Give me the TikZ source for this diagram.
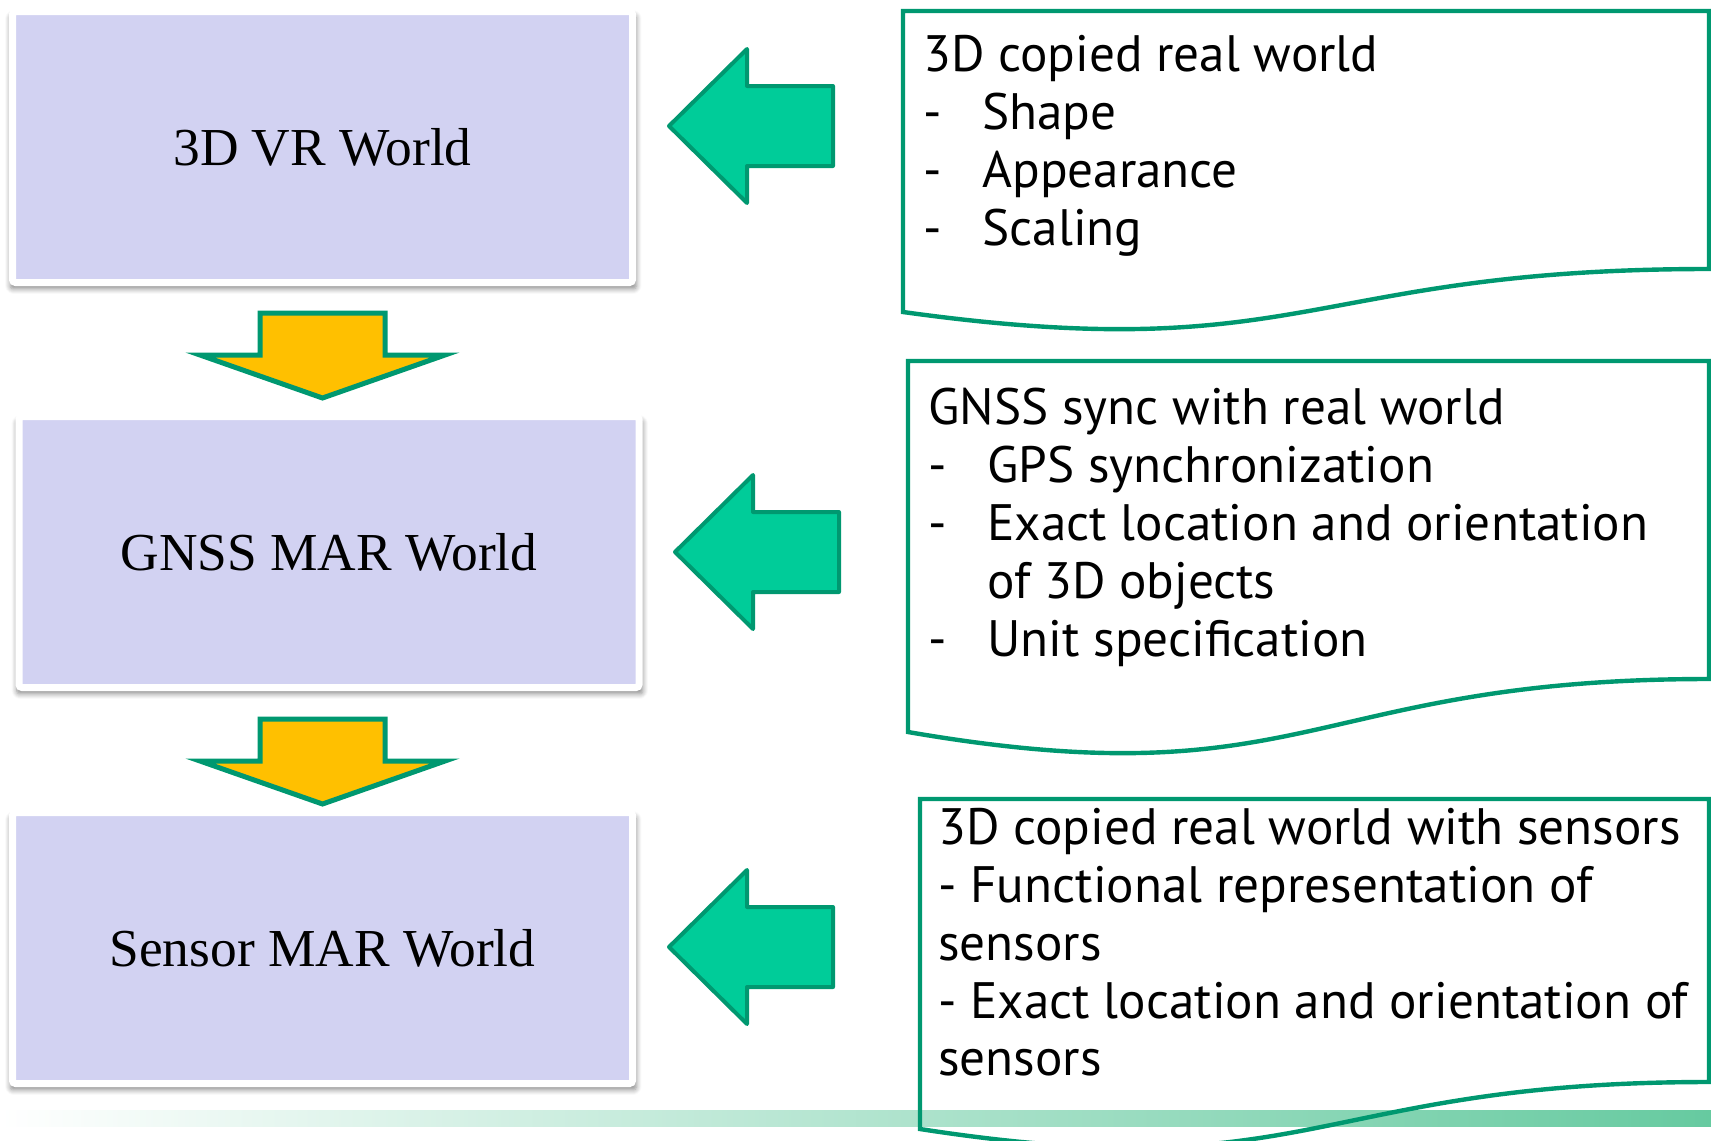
\documentclass[tikz,border=0pt]{standalone}
\usepackage{fontspec}
\setmainfont{Liberation Serif}
\newfontfamily\docfont{PT Sans}
\usetikzlibrary{shadows.blur}
\definecolor{worldfill}{RGB}{210,210,242}
\definecolor{arrowgreen}{RGB}{0,204,153}
\definecolor{edgegreen}{RGB}{0,152,112}
\definecolor{arrowyellow}{RGB}{255,192,0}
\definecolor{barend}{RGB}{102,202,160}
\newcommand{\dashitem}{\makebox[29.5pt][l]{-}}
\tikzset{
  worldbox/.style={fill=worldfill, draw=white, line width=3.5pt, rounded corners=1.5pt,
    minimum width=310pt, minimum height=135.5pt, inner sep=0pt,
    blur shadow={shadow xshift=0.4pt, shadow yshift=-2.5pt, shadow blur radius=2.5pt,
      shadow blur steps=6, shadow opacity=45, shadow scale=1.01},
    font=\fontsize{26.7}{30}\selectfont},
  leftarrow/.style={fill=arrowgreen, draw=edgegreen, line width=2pt, line join=round},
  downarrow/.style={fill=arrowyellow, draw=edgegreen, line width=2.5pt, line join=miter},
  docframe/.style={draw=edgegreen, line width=2.2pt},
  doctext/.style={anchor=north west, align=left, inner sep=0pt,
    font=\docfont\fontsize{25.6}{28.9}\selectfont}
}
\begin{document}
\begin{tikzpicture}[x=0.5pt,y=-0.5pt]
\useasboundingbox (0,0) rectangle (1711,1140);
% bottom band
\fill[left color=white, right color=barend] (0,1110) rectangle (1711,1126);
% worlds
\node[worldbox] (vrworld) at (322.5,147) {3D VR World};
\node[worldbox] (gnssworld) at (329,552) {GNSS MAR World};
\node[worldbox] (sensorworld) at (322.5,948) {Sensor MAR World};
% down arrows
\draw[downarrow] (260,313) -- (385,313) -- (385,355) -- (445,355) -- (322.5,398) -- (200,355) -- (260,355) -- cycle;
\draw[downarrow] (260,719) -- (385,719) -- (385,761) -- (445,761) -- (322.5,804) -- (200,761) -- (260,761) -- cycle;
% left arrows
\draw[leftarrow] (669,126) -- (747,49) -- (747,86) -- (833,86) -- (833,166) -- (747,166) -- (747,203) -- cycle;
\draw[leftarrow] (675,552) -- (753,475) -- (753,512) -- (839,512) -- (839,592) -- (753,592) -- (753,629) -- cycle;
\draw[leftarrow] (669,947) -- (747,870) -- (747,907) -- (833,907) -- (833,987) -- (747,987) -- (747,1024) -- cycle;
% notes
\draw[docframe] (903,11) -- (1709,11) -- (1709,269) .. controls (1306,269) and (1306,368) .. (903,312) -- cycle;
\draw[docframe] (908,361) -- (1709,361) -- (1709,679) .. controls (1308,679) and (1308,801) .. (908,732) -- cycle;
\draw[docframe] (920,799) -- (1709,799) -- (1709,1082) .. controls (1314,1082) and (1314,1190) .. (920,1129) -- cycle;
\node[doctext] (vrnote) at (923,35) {3D copied real world\\\dashitem Shape\\\dashitem Appearance\\\dashitem Scaling};
\node[doctext] (gnssnote) at (928,388) {GNSS sync with real world\\\dashitem GPS synchronization\\\dashitem Exact location and orientation\\\hspace*{29.5pt}of 3D objects\\\dashitem Unit specification};
\node[doctext] (sensornote) at (938,808) {3D copied real world with sensors\\- Functional representation of\\sensors\\- Exact location and orientation of\\sensors};
\end{tikzpicture}
\end{document}
